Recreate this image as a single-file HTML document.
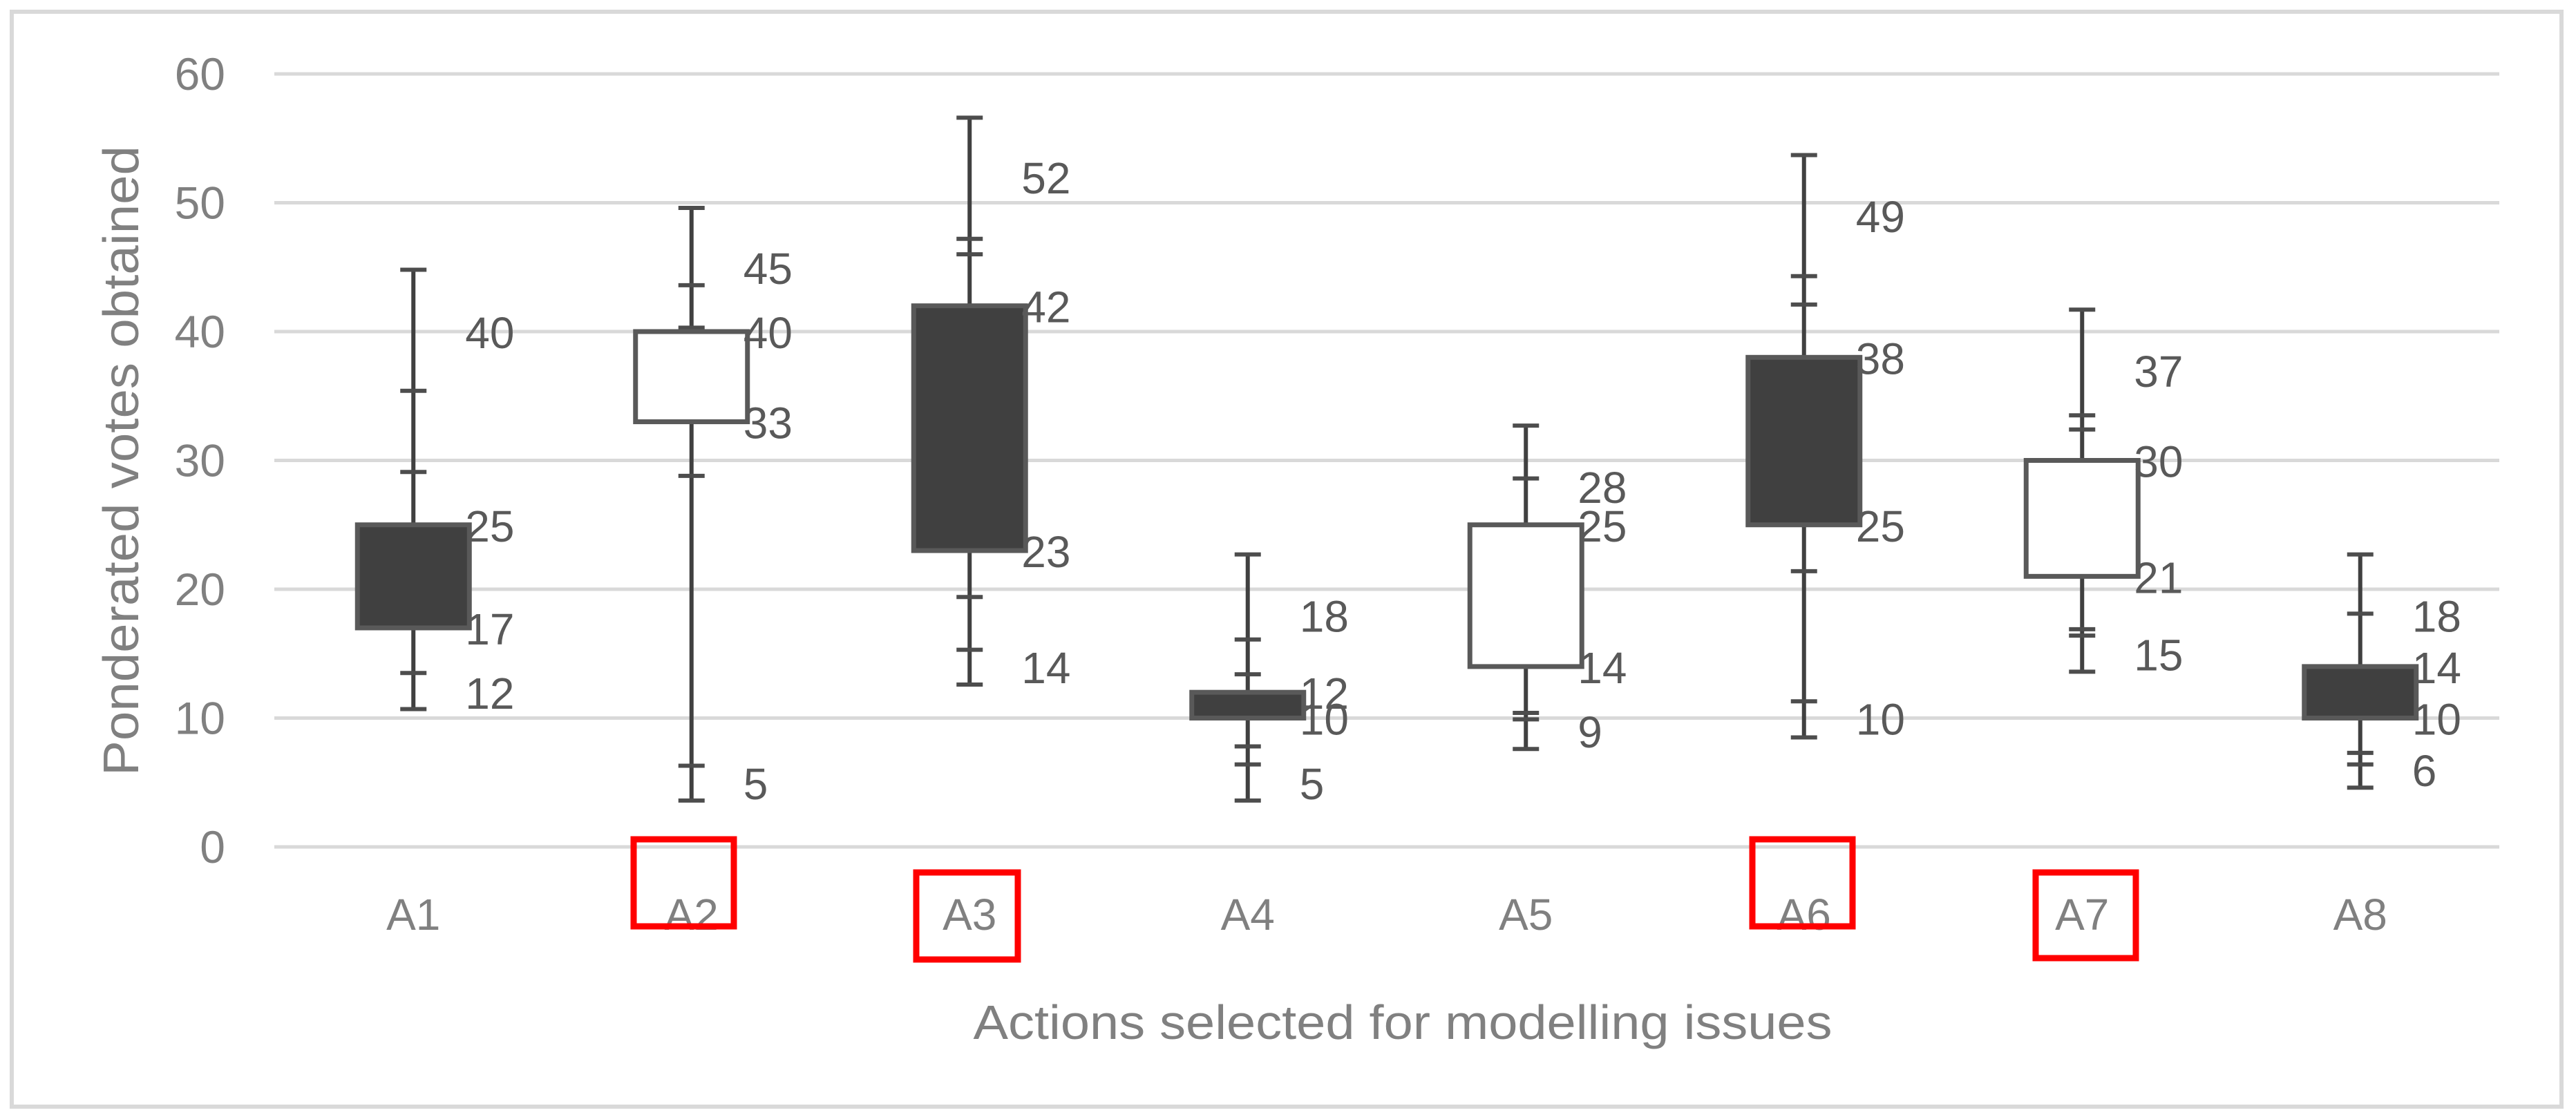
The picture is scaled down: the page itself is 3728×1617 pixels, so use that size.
<!DOCTYPE html>
<html><head><meta charset="utf-8"><style>
html,body{margin:0;padding:0;background:#fff;}
svg{display:block;}
</style></head><body>
<svg id="chart" width="3728" height="1617" viewBox="0 0 3728 1617" xmlns="http://www.w3.org/2000/svg" font-family="'Liberation Sans', sans-serif">
<rect x="17" y="17" width="3690" height="1585" fill="#fff" stroke="#d9d9d9" stroke-width="6"/>
<g id="grid"></g>
<g id="marks"></g>
<text transform="translate(200,667) rotate(-90)" text-anchor="middle" font-size="72" fill="#808080" textLength="912" lengthAdjust="spacingAndGlyphs">Ponderated votes obtained</text>
<text x="2030" y="1504" text-anchor="middle" font-size="70" fill="#808080" textLength="1243" lengthAdjust="spacingAndGlyphs">Actions selected for modelling issues</text>
<g id="highlights" fill="none" stroke="#ff0000" stroke-width="9">
<rect x="917" y="1215" width="145" height="126"/>
<rect x="1326" y="1263" width="147" height="126"/>
<rect x="2536" y="1215" width="145" height="126"/>
<rect x="2946" y="1263" width="145" height="124"/>
</g>
</svg>
<script>
const categories = ['A1','A2','A3','A4','A5','A6','A7','A8'];
const whiskerMin = [10.7, 3.6, 12.6, 3.6, 7.6, 8.5, 13.6, 4.6];
const whiskerMax = [44.8, 49.6, 56.6, 22.7, 32.7, 53.7, 41.7, 22.7];
const boxLow = [17, 33, 23, 10, 14, 25, 21, 10];
const boxHigh = [25, 40, 42, 12, 25, 38, 30, 14];
const boxFilled = [true, false, true, true, false, true, false, true];
const extraTicks = [[35.4, 29.1, 13.5], [43.6, 40.3, 28.8, 6.3], [47.2, 46.0, 19.4, 15.3], [16.1, 13.4, 7.8, 6.4], [28.6, 10.4, 9.9], [44.3, 42.1, 21.4, 11.3], [33.5, 32.4, 16.9, 16.4], [18.1, 10, 7.3, 6.4]];
const valueLabels = [[40, 25, 17, 12], [45, 40, 33, 5], [52, 42, 23, 14], [18, 12, 10, 5], [28, 25, 14, 9], [49, 38, 25, 10], [37, 30, 21, 15], [18, 14, 10, 6]];
const yTicks = [0, 10, 20, 30, 40, 50, 60];

const NS = 'http://www.w3.org/2000/svg';
const plotLeft = 397, plotRight = 3617, yZero = 1226, yTop = 107, yMax = 60;
const yScale = v => yZero - (v / yMax) * (yZero - yTop);
const band = (plotRight - plotLeft) / categories.length;
const xScale = i => plotLeft + band * (i + 0.5);
function mk(tag, attrs, parent) {
  const e = document.createElementNS(NS, tag);
  for (const k in attrs) e.setAttribute(k, attrs[k]);
  parent.appendChild(e);
  return e;
}
const grid = document.getElementById('grid');
const marks = document.getElementById('marks');
yTicks.forEach(t => {
  const l = mk('line', {x1: plotLeft, x2: plotRight, y1: yScale(t), y2: yScale(t), stroke: '#d9d9d9', 'stroke-width': 5}, grid);
  
  
  const tx = mk('text', {x: 326, y: yScale(t) + 23, 'text-anchor': 'end', 'font-size': 66, fill: '#808080'}, grid);
  tx.textContent = t;
  
  
});
const boxHalf = 81, capHalf = 19, labelDx = 75;
categories.forEach((c, i) => {
  const cx = xScale(i);
  const g = mk('g', {}, marks);
  
  
  mk('line', {x1: cx, x2: cx, y1: yScale(whiskerMin[i]), y2: yScale(whiskerMax[i]), stroke: '#404040', 'stroke-width': 6}, g);
  const caps = [whiskerMin[i], whiskerMax[i]].concat(extraTicks[i]);
  caps.forEach(v => {
    const cap = mk('line', {x1: cx - capHalf, x2: cx + capHalf, y1: yScale(v), y2: yScale(v), stroke: '#4d4d4d', 'stroke-width': 6}, g);
    
    
  });
  const r = mk('rect', {x: cx - boxHalf, y: yScale(boxHigh[i]), width: boxHalf * 2, height: yScale(boxLow[i]) - yScale(boxHigh[i]), fill: boxFilled[i] ? '#404040' : '#ffffff', stroke: '#595959', 'stroke-width': 7}, g);
  
  
  valueLabels[i].forEach(v => {
    const t = mk('text', {x: cx + labelDx, y: yScale(v) + 24, 'font-size': 64, fill: '#595959'}, g);
    t.textContent = v;
    
    
  });
  const xl = mk('text', {x: cx, y: 1346, 'text-anchor': 'middle', 'font-size': 64, fill: '#808080'}, marks);
  xl.textContent = c;
  
  
});
</script>
</body></html>
